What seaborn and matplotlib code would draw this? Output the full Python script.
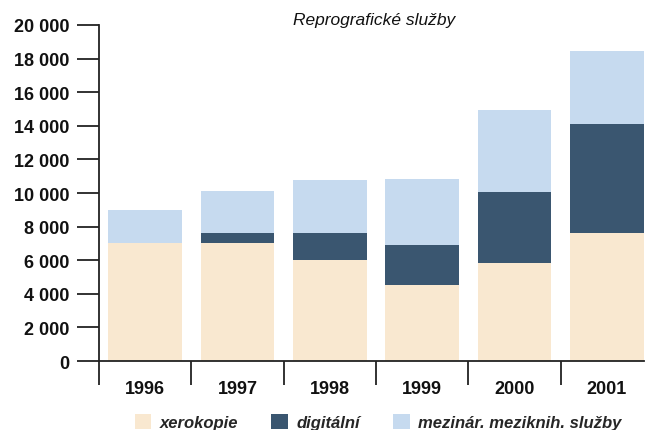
import matplotlib
matplotlib.use("Agg")
import matplotlib.pyplot as plt
import matplotlib.ticker as mticker
from matplotlib.patches import Patch
import seaborn as sns
import pandas as pd
import numpy as np

years = ["1996", "1997", "1998", "1999", "2000", "2001"]
xerokopie = [7000, 7000, 6000, 4500, 5850, 7600]
digitalni = [0, 600, 1600, 2400, 4200, 6500]
mezinar = [2000, 2500, 3200, 3950, 4900, 4350]
series_names = ["xerokopie", "digitální", "mezinár. meziknih. služby"]
colors = ["#F9E8D0", "#3A5670", "#C6DAEF"]
title = "Reprografické služby"
yticks = list(range(0, 20001, 2000))

sns.set_theme(style="white")
fam = ["Liberation Sans", "DejaVu Sans"]
plt.rcParams["font.family"] = fam

df = pd.DataFrame({"rok": years, "xerokopie": xerokopie,
                   "digitalni": digitalni, "mezinar": mezinar})
df["lvl1"] = df["xerokopie"]
df["lvl2"] = df["lvl1"] + df["digitalni"]
df["lvl3"] = df["lvl2"] + df["mezinar"]

fig = plt.figure(figsize=(6.51, 4.31), dpi=100)
ax = fig.add_axes([0.152, 0.160, 0.837, 0.7797])

for col, c in [("lvl3", colors[2]), ("lvl2", colors[1]), ("lvl1", colors[0])]:
    sns.barplot(data=df, x="rok", y=col, color=c, width=0.8, saturation=1,
                ax=ax, linewidth=0, errorbar=None)

ax.set_xlim(-0.5, 5.4)
ax.set_ylim(0, 20000)
ax.set_yticks(yticks)
ax.yaxis.set_major_formatter(mticker.FuncFormatter(
    lambda v, p: f"{int(v):,}".replace(",", " ")))
ax.set_xlabel("")
ax.set_ylabel("")

ax.set_xticks(np.arange(len(years)))
ax.set_xticklabels(years)
ax.set_xticks(np.arange(len(years)) - 0.5, minor=True)
ax.tick_params(axis="x", which="both", bottom=True)
ax.tick_params(axis="y", which="both", left=True)
ax.tick_params(axis="x", which="major", length=0, pad=14, labelsize=13)
ax.tick_params(axis="x", which="minor", length=17, width=1.3, color="#222222",
               direction="out")
ax.tick_params(axis="y", which="major", length=16, width=1.3, color="#222222",
               direction="out", labelsize=13, pad=5)
for lab in ax.get_xticklabels() + ax.get_yticklabels():
    lab.set_fontweight("bold")
    lab.set_color("#111111")

for s in ["top", "right"]:
    ax.spines[s].set_visible(False)
for s in ["left", "bottom"]:
    ax.spines[s].set_color("#222222")
    ax.spines[s].set_linewidth(1.3)

fig.text(0.575, 0.953, title, ha="center", va="center", fontsize=12.5,
         style="italic", color="#111111")

handles = [Patch(facecolor=c, edgecolor="none") for c in colors]
fig.legend(handles, series_names, loc="center", bbox_to_anchor=(0.581, 0.019),
           ncol=3, frameon=False,
           prop={"style": "italic", "size": 12, "weight": "bold"},
           handlelength=1.0, handleheight=1.0, handletextpad=0.5,
           columnspacing=2.0)

fig.savefig("out.png", dpi=100)
